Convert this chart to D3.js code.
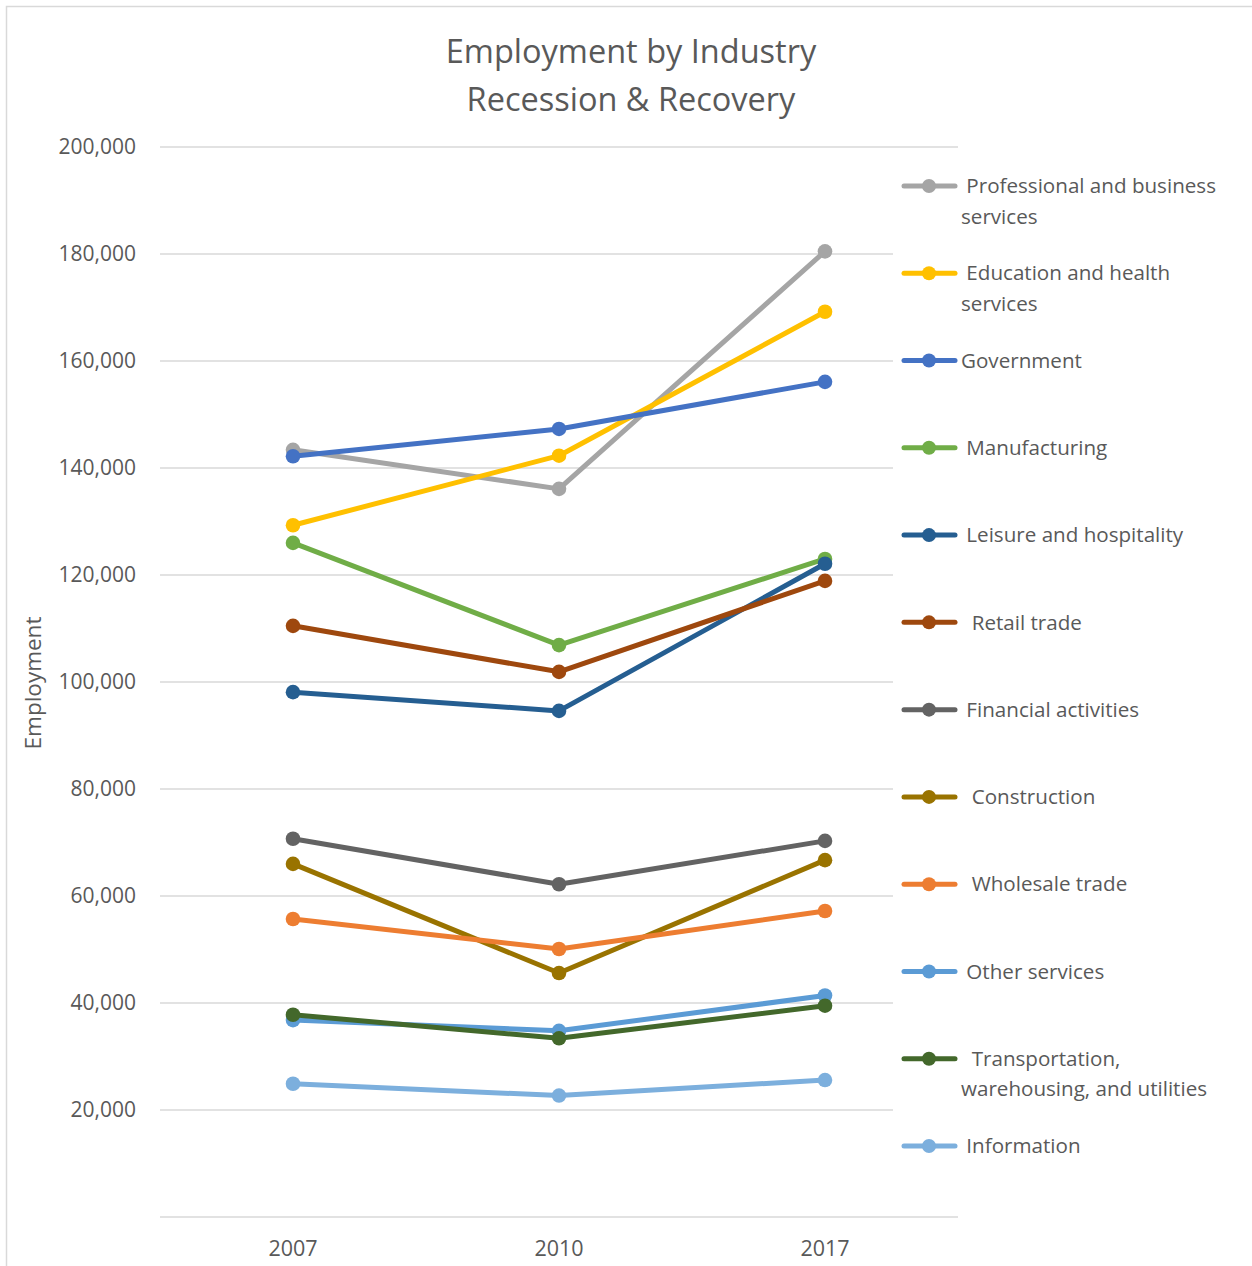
<!DOCTYPE html>
<html>
<head>
<meta charset="utf-8">
<script src="https://cdn.jsdelivr.net/npm/d3@7"></script>
<style>
  body { margin: 0; background: #fff; }
  svg text { font-family: "Open Sans", sans-serif; fill: #595959; }
</style>
</head>
<body>
<svg id="chart" width="1252" height="1266"></svg>
<script>
// data
const years = ["2007", "2010", "2017"];
const industries = [
  " Professional and business services",
  " Education and health services",
  "Government",
  " Manufacturing",
  " Leisure and hospitality",
  "  Retail trade",
  " Financial activities",
  "  Construction",
  "  Wholesale trade",
  " Other services",
  "  Transportation, warehousing, and utilities",
  " Information"
];
// legend wrapping as in the reference
const legendLines = [
  [" Professional and business", "services"],
  [" Education and health", "services"],
  ["Government"],
  [" Manufacturing"],
  [" Leisure and hospitality"],
  ["  Retail trade"],
  [" Financial activities"],
  ["  Construction"],
  ["  Wholesale trade"],
  [" Other services"],
  ["  Transportation,", "warehousing, and utilities"],
  [" Information"]
];
const values = [
  [143400, 136100, 180500],
  [129300, 142300, 169200],
  [142200, 147300, 156100],
  [126000, 106900, 123000],
  [98100, 94600, 122100],
  [110500, 101900, 118900],
  [70700, 62200, 70300],
  [66000, 45600, 66700],
  [55700, 50100, 57200],
  [36800, 34800, 41400],
  [37800, 33400, 39500],
  [24900, 22700, 25600]
];
const colors = ["#A5A5A5", "#FFC000", "#4472C4", "#70AD47", "#255E91", "#9E480E",
                "#636363", "#997300", "#ED7D31", "#5B9BD5", "#43682B", "#7CAFDD"];
const yTicks = [20000, 40000, 60000, 80000, 100000, 120000, 140000, 160000, 180000, 200000];

const svg = d3.select("#chart");

// chart border (left and top visible)
svg.append("path")
  .attr("d", "M6.5,1266 V6.5 H1252")
  .attr("fill", "none").attr("stroke", "#d9d9d9").attr("stroke-width", 1.5);

const plot = { left: 160, right: 958, top: 147, bottom: 1217 };

const x = d3.scaleBand().domain(years).range([plot.left, plot.right]);
const y = d3.scaleLinear().domain([0, 200000]).range([plot.bottom, plot.top]);

// gridlines
svg.append("g")
  .selectAll("line")
  .data([0].concat(yTicks))
  .join("line")
  .attr("x1", plot.left).attr("x2", plot.right)
  .attr("y1", d => y(d)).attr("y2", d => y(d))
  .attr("stroke", "#d9d9d9").attr("stroke-width", 1.5);

// y axis labels
const fmt = d3.format(",");
svg.append("g")
  .selectAll("text")
  .data(yTicks)
  .join("text")
  .attr("x", 136).attr("y", d => y(d))
  .attr("dy", "0.35em")
  .attr("text-anchor", "end")
  .style("font-size", "21px")
  .text(d => fmt(d));

// x axis labels
svg.append("g")
  .selectAll("text")
  .data(years)
  .join("text")
  .attr("x", d => x(d) + x.bandwidth() / 2)
  .attr("y", 1256)
  .attr("text-anchor", "middle")
  .style("font-size", "21.5px")
  .text(d => d);

// y title
svg.append("text")
  .attr("transform", "translate(41,683) rotate(-90)")
  .attr("text-anchor", "middle")
  .style("font-size", "22.5px")
  .text("Employment");

// title
svg.append("text")
  .attr("x", 631).attr("y", 63)
  .attr("text-anchor", "middle")
  .style("font-size", "32.5px")
  .text("Employment by Industry");
svg.append("text")
  .attr("x", 631).attr("y", 111)
  .attr("text-anchor", "middle")
  .style("font-size", "32.5px")
  .text("Recession & Recovery");

// legend background covers gridlines
svg.append("rect")
  .attr("x", 893).attr("y", 160).attr("width", 359).attr("height", 1015)
  .attr("fill", "#fff");

// series
const line = d3.line()
  .x((d, i) => x(years[i]) + x.bandwidth() / 2)
  .y(d => y(d));

values.forEach((vals, k) => {
  const g = svg.append("g");
  g.append("path")
    .attr("d", line(vals))
    .attr("fill", "none")
    .attr("stroke", colors[k])
    .attr("stroke-width", 5)
    .attr("stroke-linejoin", "round")
    .attr("stroke-linecap", "round");
  g.selectAll("circle")
    .data(vals)
    .join("circle")
    .attr("cx", (d, i) => x(years[i]) + x.bandwidth() / 2)
    .attr("cy", d => y(d))
    .attr("r", 7.3)
    .attr("fill", colors[k]);
});

// legend
const legY = d3.scalePoint().domain(d3.range(industries.length)).range([186, 1146]);
const leg = svg.append("g");
industries.forEach((name, k) => {
  const g = leg.append("g").attr("transform", `translate(0,${legY(k)})`);
  g.append("line")
    .attr("x1", 904).attr("x2", 955)
    .attr("stroke", colors[k]).attr("stroke-width", 5)
    .attr("stroke-linecap", "round");
  g.append("circle").attr("cx", 929).attr("r", 7).attr("fill", colors[k]);
  const t = g.append("text")
    .attr("x", 961)
    .attr("y", 0)
    .style("font-size", "20.6px")
    .style("white-space", "pre")
    .attr("xml:space", "preserve");
  legendLines[k].forEach((s, j) => {
    t.append("tspan")
      .attr("x", 961)
      .attr("dy", j === 0 ? "0.35em" : 30.5)
      .text(s);
  });
});
</script>
</body>
</html>
